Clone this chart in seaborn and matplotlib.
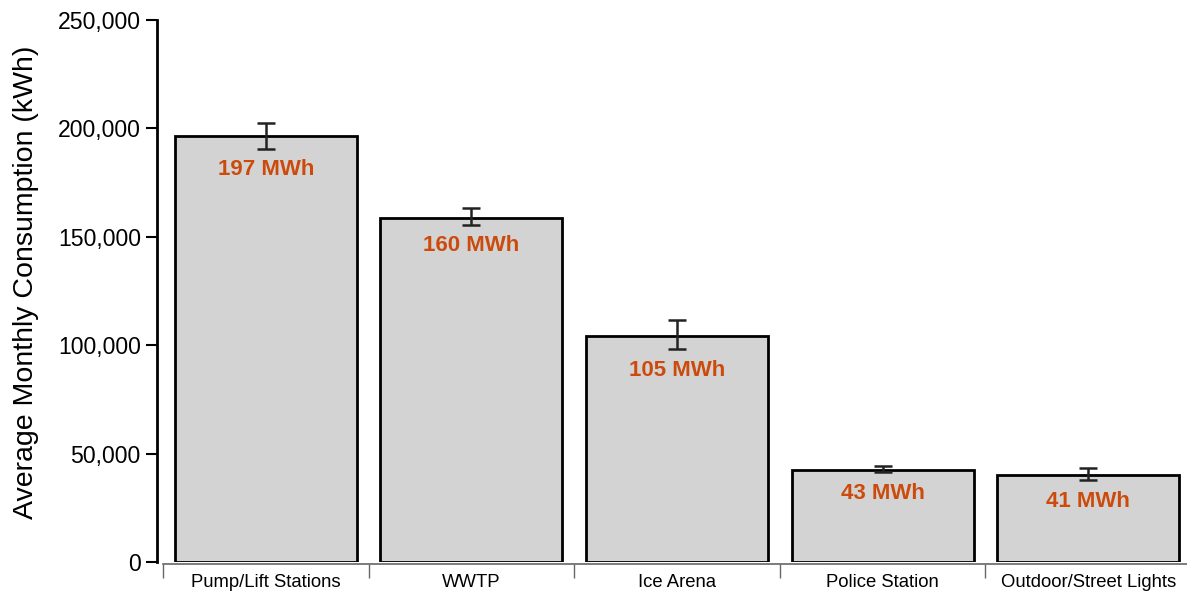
import matplotlib
matplotlib.use("Agg")
import matplotlib.pyplot as plt
import seaborn as sns
import pandas as pd
import numpy as np
from matplotlib.ticker import FuncFormatter, FixedLocator

categories = ["Pump/Lift Stations", "WWTP", "Ice Arena", "Police Station", "Outdoor/Street Lights"]
consumption_kwh = [196300, 158600, 104300, 42300, 40100]
err_low = [190700, 155600, 98100, 41300, 37700]
err_high = [202700, 163300, 111500, 44200, 43500]
bar_labels = ["197 MWh", "160 MWh", "105 MWh", "43 MWh", "41 MWh"]

sns.set_theme(style="ticks")
plt.rcParams['font.family'] = ['Liberation Sans', 'DejaVu Sans']

df = pd.DataFrame({"category": categories, "kwh": consumption_kwh})

fig = plt.figure(figsize=(11.87, 5.93), dpi=100)
W, H = 1187, 593
ax = fig.add_axes([163 / W, (H - 562) / H, (1191 - 163) / W, (562 - 20) / H])

sns.barplot(data=df, x="category", y="kwh", color="#d3d3d3", saturation=1,
            edgecolor="black", linewidth=2, width=0.885, errorbar=None, ax=ax)

x = np.arange(len(categories))
vals = np.array(consumption_kwh)
yerr = np.array([vals - np.array(err_low), np.array(err_high) - vals])
ax.errorbar(x, vals, yerr=yerr, fmt="none", ecolor="#222222", elinewidth=1.8,
            capsize=6.5, capthick=1.8, zorder=5)

for xi, lo, lab in zip(x, err_low, bar_labels):
    ax.annotate(lab, (xi, lo), xytext=(0, -21), textcoords="offset pixels",
                ha="center", va="center", fontsize=16, fontweight="bold",
                color="#cc4b0c", zorder=6)

ax.set_xlim(-0.5, len(categories) - 0.5)
ax.set_ylim(0, 250000)
ax.yaxis.set_major_locator(FixedLocator([0, 50000, 100000, 150000, 200000, 250000]))
ax.yaxis.set_major_formatter(FuncFormatter(lambda v, p: f"{int(v):,}"))
ax.tick_params(axis="y", labelsize=16.6, length=8, width=1.5, color="black", pad=4,
               labelcolor="black")

ax.set_xticks(x)
ax.set_xticklabels(categories)
ax.set_xticks(np.arange(-0.5, len(categories)), minor=True)
ax.tick_params(axis="x", which="major", length=0, labelsize=13.3, pad=7, labelcolor="black")
ax.tick_params(axis="x", which="minor", length=10, width=1, color="#666666")

ax.set_xlabel("")
ax.set_ylabel("Average Monthly Consumption (kWh)", fontsize=20.5, color="black")
ax.yaxis.set_label_coords(-0.1206, 0.5166)

for s in ["top", "right"]:
    ax.spines[s].set_visible(False)
ax.spines["left"].set_position(("outward", 4))
ax.spines["left"].set_linewidth(2)
ax.spines["left"].set_color("black")
ax.spines["bottom"].set_position(("outward", 1.5))
ax.spines["bottom"].set_linewidth(1.2)
ax.spines["bottom"].set_color("#666666")

fig.savefig("out.png", dpi=100)
